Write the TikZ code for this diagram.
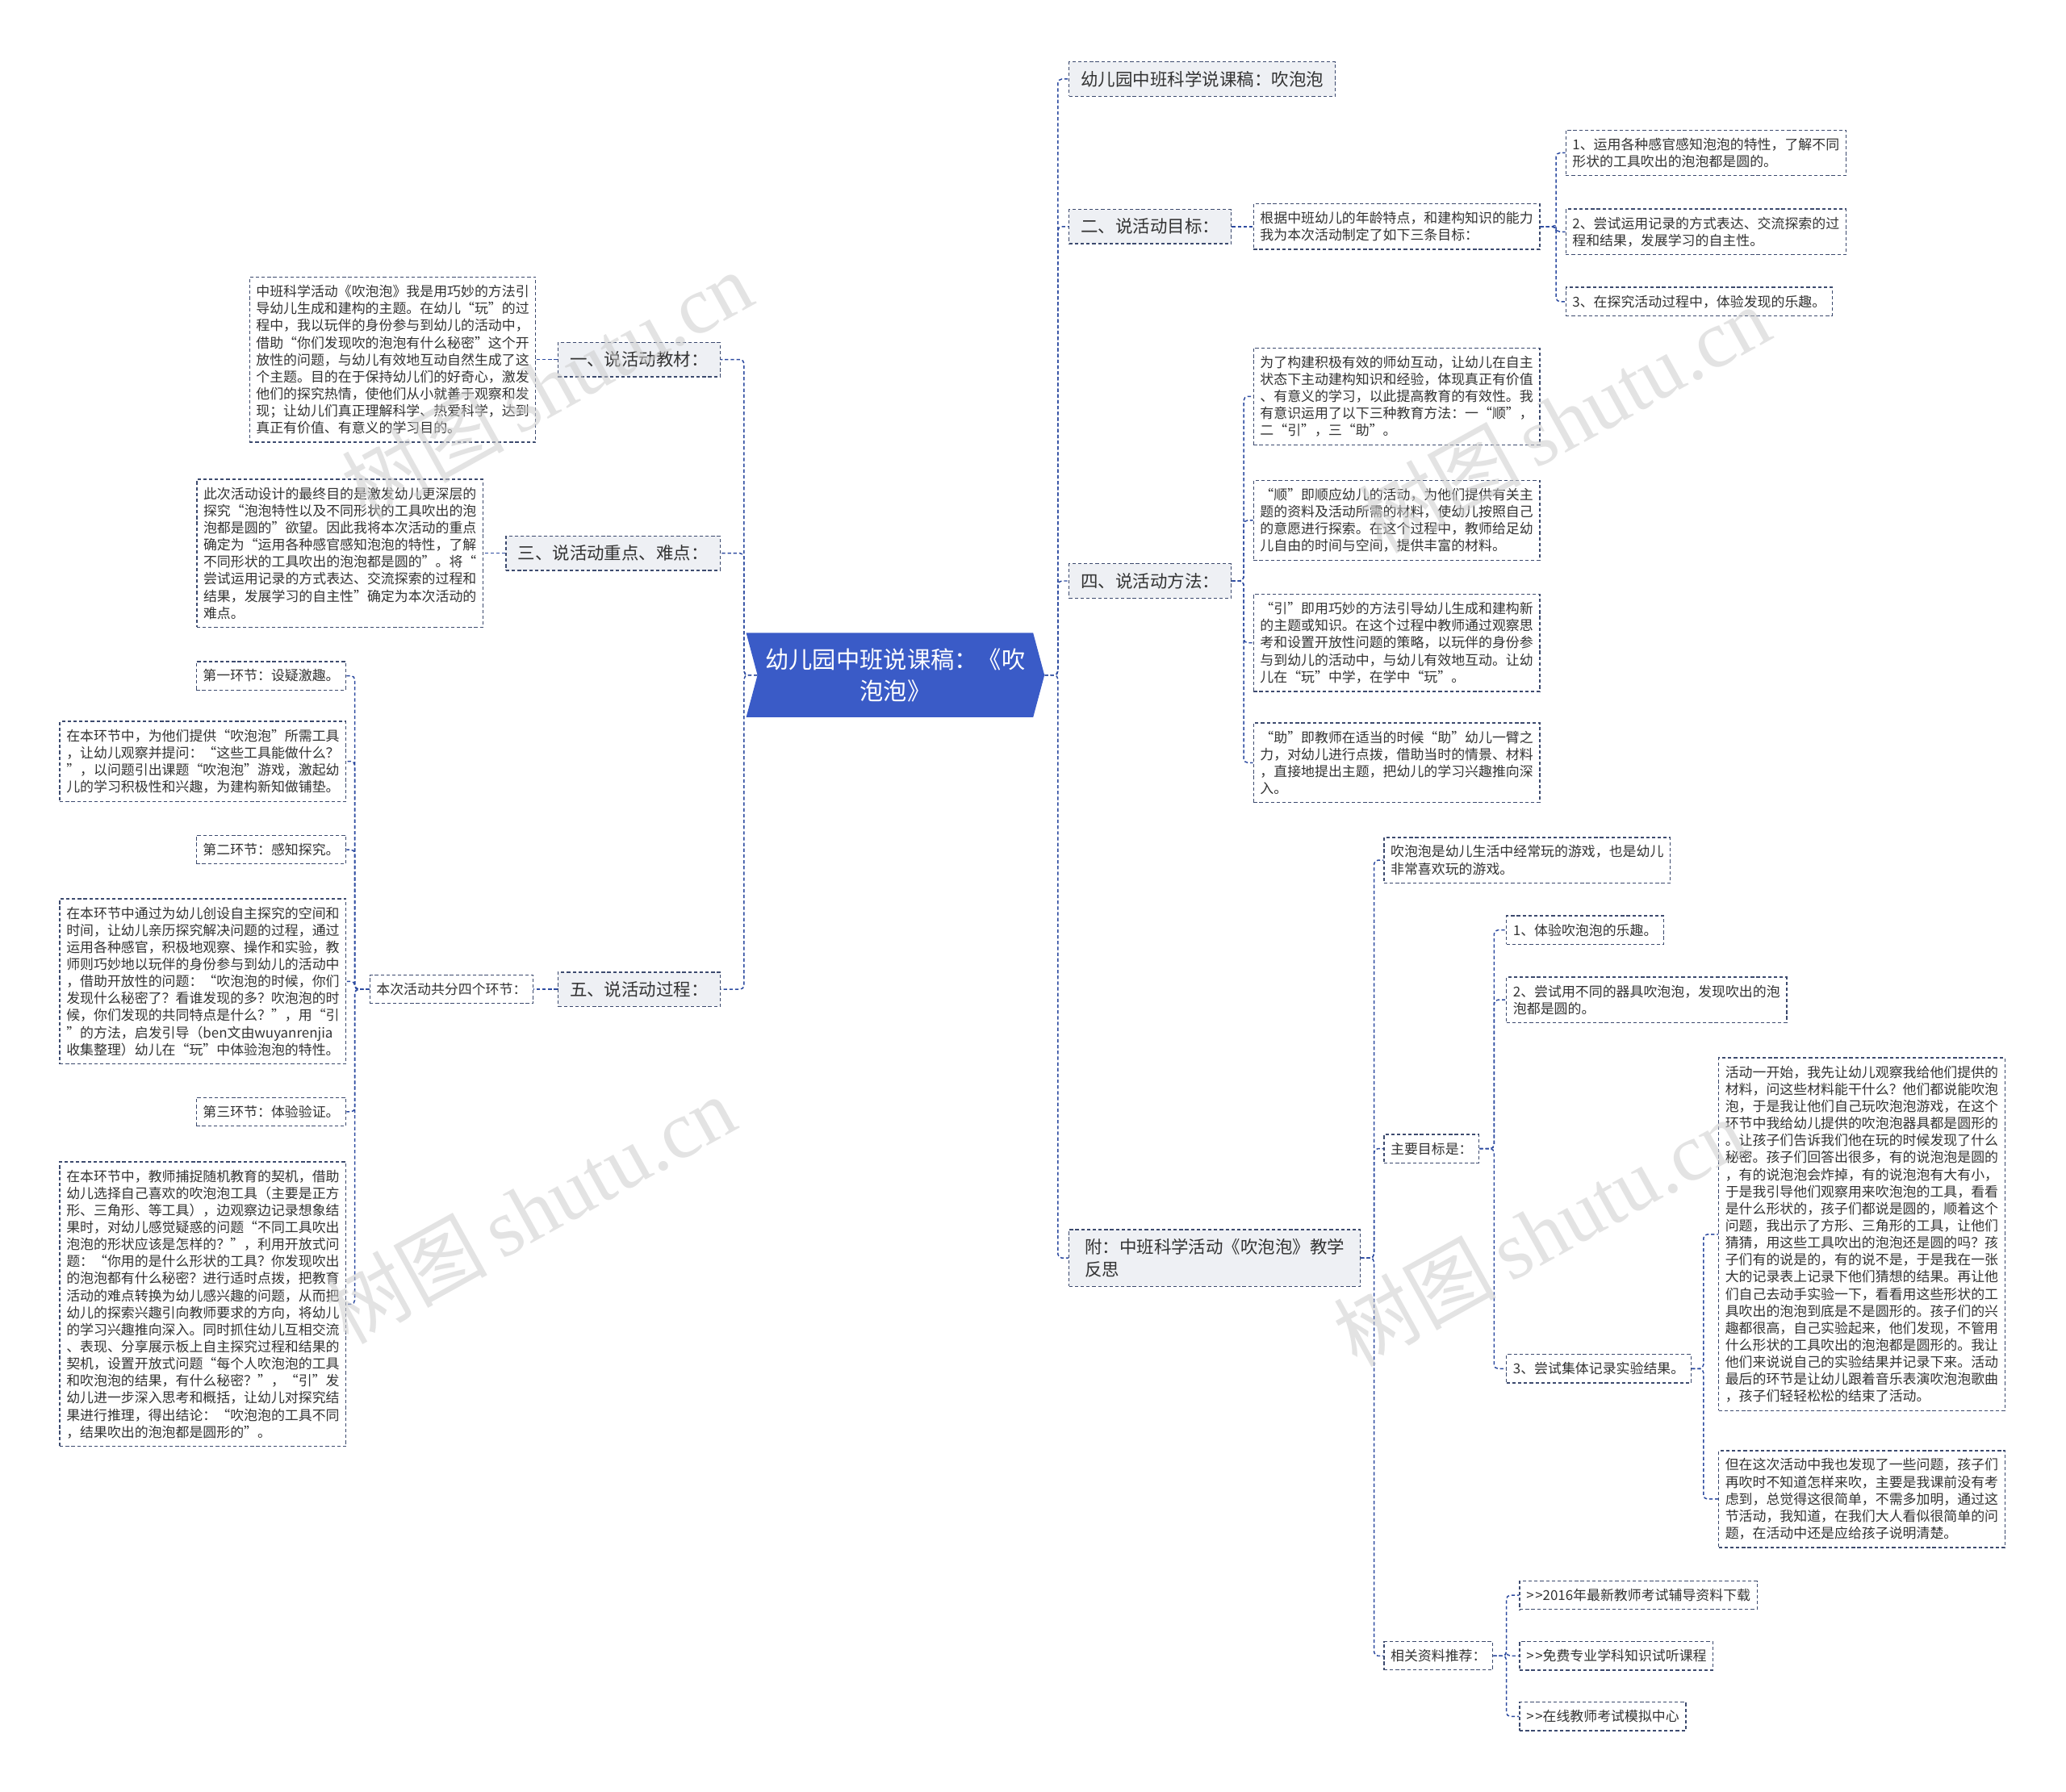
\documentclass[tikz,border=0pt]{standalone}
\usepackage{fontspec}
\setmainfont{Noto Sans CJK SC}
\newfontfamily\wmfont{Liberation Serif}
\usetikzlibrary{shapes.symbols}
\definecolor{rootblue}{RGB}{58,91,199}
\definecolor{topicgray}{RGB}{238,240,244}
\definecolor{boxline}{RGB}{60,74,110}
\definecolor{linkblue}{RGB}{45,75,160}
\definecolor{textgray}{RGB}{51,51,51}
\tikzset{
  link/.style={draw=linkblue, line width=0.9pt, dash pattern=on 2.6pt off 1.8pt, rounded corners=3pt},
  topic/.style={draw=boxline, line width=0.8pt, dash pattern=on 2.6pt off 1.8pt, fill=topicgray, text=textgray,
    font=\fontsize{13.2}{17}\selectfont, inner xsep=9pt, inner ysep=7pt, align=left},
  leaf/.style={draw=boxline, line width=0.8pt, dash pattern=on 2.6pt off 1.8pt, fill=white, text=textgray,
    font=\fontsize{10.4}{13}\selectfont, inner xsep=5pt, inner ysep=6pt, align=left},
  wmark/.style={text=black!20, opacity=0.55, rotate=29, font=\fontsize{62}{62}\selectfont}
}
\begin{document}
\begin{tikzpicture}[x=1bp,y=-1bp]
\useasboundingbox (0,0) rectangle (1568,1360);

% centre
\node[signal, signal from=west, signal to=east, signal pointer angle=150, fill=rootblue, text=white,
  font=\fontsize{18}{24}\selectfont, align=center, minimum height=64bp, inner xsep=6pt] (root) at (679.5,512.5)
  {幼儿园中班说课稿：《吹\\泡泡》};

% first level
\node[topic, anchor=west] (title) at (811,60) {幼儿园中班科学说课稿：吹泡泡};
\node[topic, anchor=west] (aim) at (811,172) {二、说活动目标：};
\node[topic, anchor=west] (method) at (811,441) {四、说活动方法：};
\node[topic, anchor=west, minimum width=221bp] (review) at (811,955) {附：中班科学活动《吹泡泡》教学\\反思};
\node[topic, anchor=east] (material) at (547,273) {一、说活动教材：};
\node[topic, anchor=east] (focus) at (547,420) {三、说活动重点、难点：};
\node[topic, anchor=east] (process) at (547,751) {五、说活动过程：};

% left side
\node[leaf, anchor=east] (materialtxt) at (407,273) {中班科学活动《吹泡泡》我是用巧妙的方法引\\导幼儿生成和建构的主题。在幼儿“玩”的过\\程中，我以玩伴的身份参与到幼儿的活动中，\\借助“你们发现吹的泡泡有什么秘密”这个开\\放性的问题，与幼儿有效地互动自然生成了这\\个主题。目的在于保持幼儿们的好奇心，激发\\他们的探究热情，使他们从小就善于观察和发\\现；让幼儿们真正理解科学、热爱科学，达到\\真正有价值、有意义的学习目的。};
\node[leaf, anchor=east] (focustxt) at (367,420) {此次活动设计的最终目的是激发幼儿更深层的\\探究“泡泡特性以及不同形状的工具吹出的泡\\泡都是圆的”欲望。因此我将本次活动的重点\\确定为“运用各种感官感知泡泡的特性，了解\\不同形状的工具吹出的泡泡都是圆的”。将“\\尝试运用记录的方式表达、交流探索的过程和\\结果，发展学习的自主性”确定为本次活动的\\难点。};
\node[leaf, anchor=east] (steps) at (405,751) {本次活动共分四个环节：};
\node[leaf, anchor=east] (step1) at (263,513) {第一环节：设疑激趣。};
\node[leaf, anchor=east] (step1txt) at (263,578) {在本环节中，为他们提供“吹泡泡”所需工具\\，让幼儿观察并提问：“这些工具能做什么？\\”，以问题引出课题“吹泡泡”游戏，激起幼\\儿的学习积极性和兴趣，为建构新知做铺垫。};
\node[leaf, anchor=east] (step2) at (263,645) {第二环节：感知探究。};
\node[leaf, anchor=east] (step2txt) at (263,745) {在本环节中通过为幼儿创设自主探究的空间和\\时间，让幼儿亲历探究解决问题的过程，通过\\运用各种感官，积极地观察、操作和实验，教\\师则巧妙地以玩伴的身份参与到幼儿的活动中\\，借助开放性的问题：“吹泡泡的时候，你们\\发现什么秘密了？看谁发现的多？吹泡泡的时\\候，你们发现的共同特点是什么？”，用“引\\”的方法，启发引导（ben文由wuyanrenjia\\收集整理）幼儿在“玩”中体验泡泡的特性。};
\node[leaf, anchor=east] (step3) at (263,844) {第三环节：体验验证。};
\node[leaf, anchor=east] (step3txt) at (263,990) {在本环节中，教师捕捉随机教育的契机，借助\\幼儿选择自己喜欢的吹泡泡工具（主要是正方\\形、三角形、等工具），边观察边记录想象结\\果时，对幼儿感觉疑惑的问题“不同工具吹出\\泡泡的形状应该是怎样的？”，利用开放式问\\题：“你用的是什么形状的工具？你发现吹出\\的泡泡都有什么秘密？进行适时点拨，把教育\\活动的难点转换为幼儿感兴趣的问题，从而把\\幼儿的探索兴趣引向教师要求的方向，将幼儿\\的学习兴趣推向深入。同时抓住幼儿互相交流\\、表现、分享展示板上自主探究过程和结果的\\契机，设置开放式问题“每个人吹泡泡的工具\\和吹泡泡的结果，有什么秘密？”，“引”发\\幼儿进一步深入思考和概括，让幼儿对探究结\\果进行推理，得出结论：“吹泡泡的工具不同\\，结果吹出的泡泡都是圆形的”。};

% right side
\node[leaf, anchor=west] (aimtxt) at (951,172) {根据中班幼儿的年龄特点，和建构知识的能力\\我为本次活动制定了如下三条目标：};
\node[leaf, anchor=west] (aim1) at (1188,116) {1、运用各种感官感知泡泡的特性，了解不同\\形状的工具吹出的泡泡都是圆的。};
\node[leaf, anchor=west] (aim2) at (1188,176) {2、尝试运用记录的方式表达、交流探索的过\\程和结果，发展学习的自主性。};
\node[leaf, anchor=west] (aim3) at (1188,229) {3、在探究活动过程中，体验发现的乐趣。};
\node[leaf, anchor=west] (method1) at (951,301) {为了构建积极有效的师幼互动，让幼儿在自主\\状态下主动建构知识和经验，体现真正有价值\\、有意义的学习，以此提高教育的有效性。我\\有意识运用了以下三种教育方法：一“顺”，\\二“引”，三“助”。};
\node[leaf, anchor=west] (method2) at (951,395) {“顺”即顺应幼儿的活动，为他们提供有关主\\题的资料及活动所需的材料，使幼儿按照自己\\的意愿进行探索。在这个过程中，教师给足幼\\儿自由的时间与空间，提供丰富的材料。};
\node[leaf, anchor=west] (method3) at (951,488) {“引”即用巧妙的方法引导幼儿生成和建构新\\的主题或知识。在这个过程中教师通过观察思\\考和设置开放性问题的策略，以玩伴的身份参\\与到幼儿的活动中，与幼儿有效地互动。让幼\\儿在“玩”中学，在学中“玩”。};
\node[leaf, anchor=west] (method4) at (951,579) {“助”即教师在适当的时候“助”幼儿一臂之\\力，对幼儿进行点拨，借助当时的情景、材料\\，直接地提出主题，把幼儿的学习兴趣推向深\\入。};
\node[leaf, anchor=west] (intro) at (1050,653) {吹泡泡是幼儿生活中经常玩的游戏，也是幼儿\\非常喜欢玩的游戏。};
\node[leaf, anchor=west] (goals) at (1050,872) {主要目标是：};
\node[leaf, anchor=west] (links) at (1050,1257) {相关资料推荐：};
\node[leaf, anchor=west] (goal1) at (1143,706) {1、体验吹泡泡的乐趣。};
\node[leaf, anchor=west] (goal2) at (1143,759) {2、尝试用不同的器具吹泡泡，发现吹出的泡\\泡都是圆的。};
\node[leaf, anchor=west] (goal3) at (1143,1039) {3、尝试集体记录实验结果。};
\node[leaf, anchor=west] (story) at (1304,937) {活动一开始，我先让幼儿观察我给他们提供的\\材料，问这些材料能干什么？他们都说能吹泡\\泡，于是我让他们自己玩吹泡泡游戏，在这个\\环节中我给幼儿提供的吹泡泡器具都是圆形的\\。让孩子们告诉我们他在玩的时候发现了什么\\秘密。孩子们回答出很多，有的说泡泡是圆的\\，有的说泡泡会炸掉，有的说泡泡有大有小，\\于是我引导他们观察用来吹泡泡的工具，看看\\是什么形状的，孩子们都说是圆的，顺着这个\\问题，我出示了方形、三角形的工具，让他们\\猜猜，用这些工具吹出的泡泡还是圆的吗？孩\\子们有的说是的，有的说不是，于是我在一张\\大的记录表上记录下他们猜想的结果。再让他\\们自己去动手实验一下，看看用这些形状的工\\具吹出的泡泡到底是不是圆形的。孩子们的兴\\趣都很高，自己实验起来，他们发现，不管用\\什么形状的工具吹出的泡泡都是圆形的。我让\\他们来说说自己的实验结果并记录下来。活动\\最后的环节是让幼儿跟着音乐表演吹泡泡歌曲\\，孩子们轻轻松松的结束了活动。};
\node[leaf, anchor=west] (issue) at (1304,1138) {但在这次活动中我也发现了一些问题，孩子们\\再吹时不知道怎样来吹，主要是我课前没有考\\虑到，总觉得这很简单，不需多加明，通过这\\节活动，我知道，在我们大人看似很简单的问\\题，在活动中还是应给孩子说明清楚。};
\node[leaf, anchor=west] (link1) at (1153,1211) {{>}\kern1pt{>}2016年最新教师考试辅导资料下载};
\node[leaf, anchor=west] (link2) at (1153,1257) {{>}\kern1pt{>}免费专业学科知识试听课程};
\node[leaf, anchor=west] (link3) at (1153,1303) {{>}\kern1pt{>}在线教师考试模拟中心};

% connectors
\foreach \n in {title,aim,method,review}
  \draw[link] (root.east) -- ++(10,0) |- (\n.west);
\foreach \n in {material,focus,process}
  \draw[link] (root.west) -- ++(-10,0) |- (\n.east);
\draw[link] (material.west) -- (materialtxt.east);
\draw[link] (focus.west) -- (focustxt.east);
\draw[link] (process.west) -- (steps.east);
\foreach \n in {step1,step1txt,step2,step2txt,step3,step3txt}
  \draw[link] (steps.west) -- ++(-11,0) |- (\n.east);
\draw[link] (aim.east) -- (aimtxt.west);
\foreach \n in {aim1,aim2,aim3}
  \draw[link] (aimtxt.east) -- ++(12,0) |- (\n.west);
\foreach \n in {method1,method2,method3,method4}
  \draw[link] (method.east) -- ++(9,0) |- (\n.west);
\foreach \n in {intro,goals,links}
  \draw[link] (review.east) -- ++(10,0) |- (\n.west);
\foreach \n in {goal1,goal2,goal3}
  \draw[link] (goals.east) -- ++(11,0) |- (\n.west);
\foreach \n in {story,issue}
  \draw[link] (goal3.east) -- ++(9,0) |- (\n.west);
\foreach \n in {link1,link2,link3}
  \draw[link] (links.east) -- ++(10,0) |- (\n.west);

% watermarks
\node[wmark] (wm1) at (415,292) {树图\,{\wmfont shutu.cn}};
\node[wmark] (wm2) at (1187,318) {树图\,{\wmfont shutu.cn}};
\node[wmark] (wm3) at (402,918) {树图\,{\wmfont shutu.cn}};
\node[wmark] (wm4) at (1168,935) {树图\,{\wmfont shutu.cn}};
\end{tikzpicture}
\end{document}
